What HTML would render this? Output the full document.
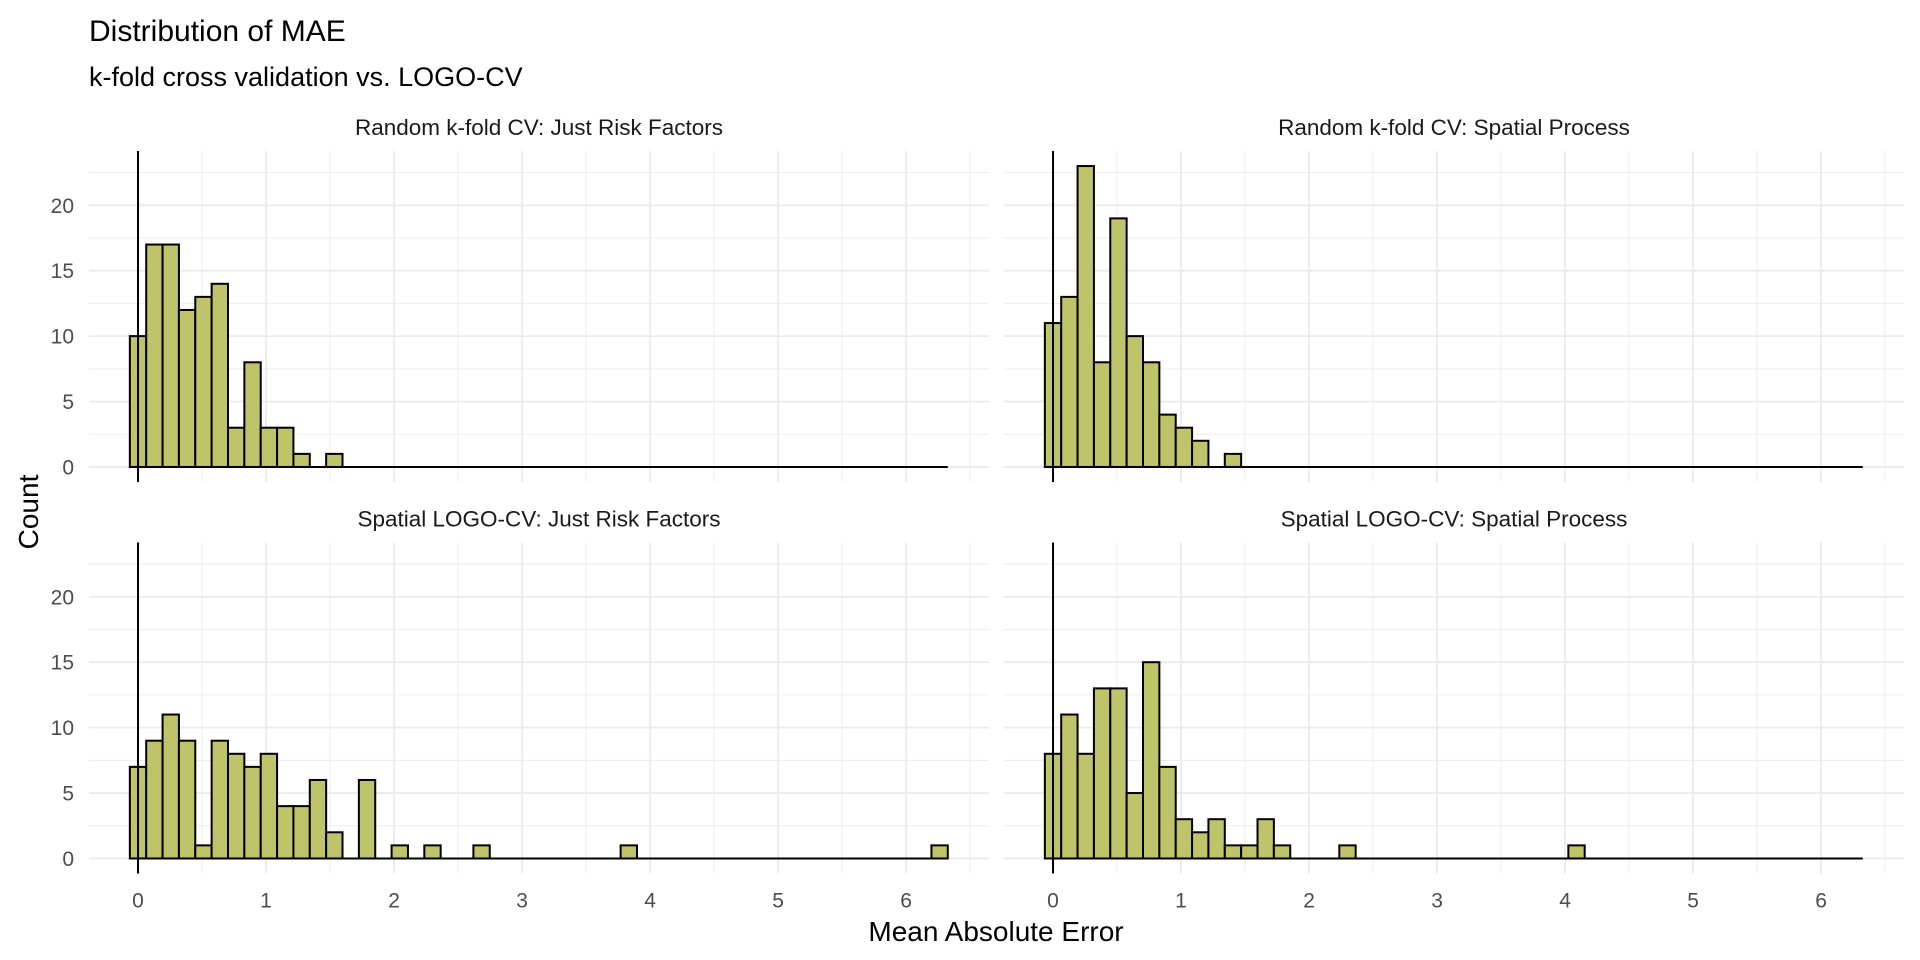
<!DOCTYPE html>
<html><head><meta charset="utf-8"><style>
html,body{margin:0;padding:0;background:#fff;}
svg{display:block;font-family:"Liberation Sans",Arial,sans-serif;}
</style></head><body>
<svg id="chart" width="1920" height="960" viewBox="0 0 1920 960">
<text x="89" y="41" font-size="30" fill="#000">Distribution of MAE</text>
<text x="89" y="86" font-size="27" fill="#000">k-fold cross validation vs. LOGO-CV</text>
<text x="996" y="941" font-size="28" text-anchor="middle" fill="#000">Mean Absolute Error</text>
<text transform="translate(38,512) rotate(-90)" font-size="28" text-anchor="middle" fill="#000">Count</text>
<g id="panels"></g>
</svg>
<script>
const binWidth = 0.1278;
const panelTitles = ["Random k-fold CV: Just Risk Factors","Random k-fold CV: Spatial Process","Spatial LOGO-CV: Just Risk Factors","Spatial LOGO-CV: Spatial Process"];
const countsKfoldRisk = [10,17,17,12,13,14,3,8,3,3,1,0,1,0,0,0,0,0,0,0,0,0,0,0,0,0,0,0,0,0,0,0,0,0,0,0,0,0,0,0,0,0,0,0,0,0,0,0,0,0];
const countsKfoldSpatial = [11,13,23,8,19,10,8,4,3,2,0,1,0,0,0,0,0,0,0,0,0,0,0,0,0,0,0,0,0,0,0,0,0,0,0,0,0,0,0,0,0,0,0,0,0,0,0,0,0,0];
const countsLogoRisk = [7,9,11,9,1,9,8,7,8,4,4,6,2,0,6,0,1,0,1,0,0,1,0,0,0,0,0,0,0,0,1,0,0,0,0,0,0,0,0,0,0,0,0,0,0,0,0,0,0,1];
const countsLogoSpatial = [8,11,8,13,13,5,15,7,3,2,3,1,1,3,1,0,0,0,1,0,0,0,0,0,0,0,0,0,0,0,0,0,1,0,0,0,0,0,0,0,0,0,0,0,0,0,0,0,0,0];
const xTicks = [0,1,2,3,4,5,6];
const yTicks = [0,5,10,15,20];
const xDomain = [-0.383, 6.648];
const yDomain = [-1.15, 24.15];

const NS = "http://www.w3.org/2000/svg";
const root = document.getElementById('panels');
function mk(tag, attrs, parent){const e=document.createElementNS(NS,tag);for(const k in attrs)e.setAttribute(k,attrs[k]);parent.appendChild(e);return e;}
const series=[countsKfoldRisk,countsKfoldSpatial,countsLogoRisk,countsLogoSpatial];
const layout=[{x:89,y:151,r:0,c:0},{x:1004,y:151,r:0,c:1},{x:89,y:542.5,r:1,c:0},{x:1004,y:542.5,r:1,c:1}];
const PW=900, PH=331;
series.forEach((counts,i)=>{
  const L=layout[i];
  const g=mk('g',{},root);
  
  
  const sx=v=>L.x+(v-xDomain[0])/(xDomain[1]-xDomain[0])*PW;
  const sy=v=>L.y+PH-(v-yDomain[0])/(yDomain[1]-yDomain[0])*PH;
  for(let v=0.5;v<xDomain[1];v+=1){const l=mk('line',{x1:sx(v),x2:sx(v),y1:L.y,y2:L.y+PH,stroke:'#ededed','stroke-width':1},g);}
  for(let v=2.5;v<yDomain[1];v+=5){const l=mk('line',{x1:L.x,x2:L.x+PW,y1:sy(v),y2:sy(v),stroke:'#ededed','stroke-width':1},g);}
  xTicks.forEach(t=>{const l=mk('line',{x1:sx(t),x2:sx(t),y1:L.y,y2:L.y+PH,stroke:'#ebebeb','stroke-width':1.8},g);});
  yTicks.forEach(t=>{const l=mk('line',{x1:L.x,x2:L.x+PW,y1:sy(t),y2:sy(t),stroke:'#ebebeb','stroke-width':1.8},g);});
  const st=mk('text',{x:L.x+PW/2,y:L.y-16,'font-size':22.5,'text-anchor':'middle',fill:'#1a1a1a'},g);
  st.textContent=panelTitles[i];
  
  
  counts.forEach((c,k)=>{
    const x0=sx(k*binWidth-binWidth/2), x1=sx(k*binWidth+binWidth/2);
    const r=mk('rect',{x:x0,y:sy(c),width:x1-x0,height:sy(0)-sy(c),fill:'#bfc36a',stroke:'#000','stroke-width':2},g);
    
    
  });
  const bl=mk('line',{x1:sx(-binWidth/2),x2:sx((counts.length-0.5)*binWidth),y1:sy(0),y2:sy(0),stroke:'#000','stroke-width':2},g);
  
  
  const vl=mk('line',{x1:sx(0),x2:sx(0),y1:L.y,y2:L.y+PH,stroke:'#000','stroke-width':2},g);
  
  
  if(L.c===0){
    yTicks.forEach(t=>{const tx=mk('text',{x:L.x-15,y:sy(t)+7.5,'font-size':21,'text-anchor':'end',fill:'#4d4d4d'},g);tx.textContent=t;});
  }
  if(L.r===1){
    xTicks.forEach(t=>{const tx=mk('text',{x:sx(t),y:L.y+PH+34,'font-size':21,'text-anchor':'middle',fill:'#4d4d4d'},g);tx.textContent=t;});
  }
});
</script>
</body></html>
